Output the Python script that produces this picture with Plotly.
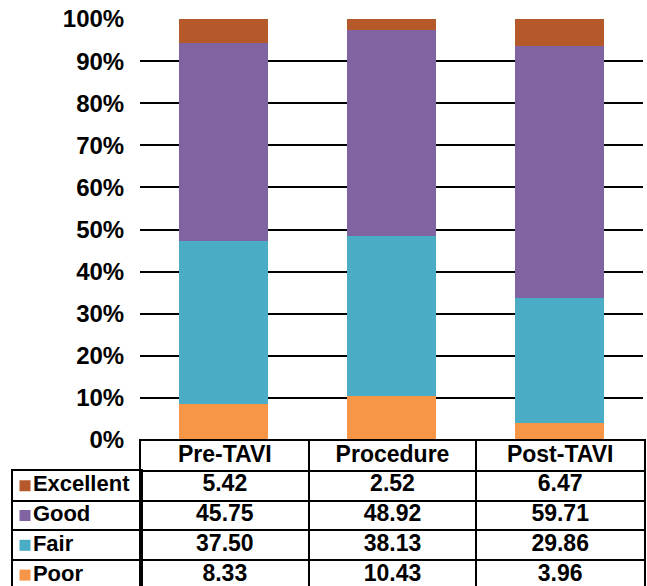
import plotly.graph_objects as go

categories = ["Pre-TAVI", "Procedure", "Post-TAVI"]
series_names = ["Excellent", "Good", "Fair", "Poor"]
excellent = [5.42, 2.52, 6.47]
good = [45.75, 48.92, 59.71]
fair = [37.50, 38.13, 29.86]
poor = [8.33, 10.43, 3.96]
y_ticks = list(range(0, 101, 10))
y_tick_labels = [f"{v}%" for v in y_ticks]

colors = {"Excellent": "#B5592A", "Good": "#8064A2", "Fair": "#4BACC6", "Poor": "#F79646"}
values = {"Excellent": excellent, "Good": good, "Fair": fair, "Poor": poor}

W, H = 647, 586
FONT = "Liberation Sans, Arial, sans-serif"
ROW = 29.8                 # table row height in px
TABLE_TOP = 441            # px from top
HEADER_KEY = "header"

fig = go.Figure()

# stacked 100% bars
for name in ["Poor", "Fair", "Good", "Excellent"]:
    fig.add_trace(go.Bar(x=categories, y=values[name], name=name,
                         marker=dict(color=colors[name], line=dict(width=0)),
                         width=0.53, showlegend=False, xaxis="x", yaxis="y"))

# data table: header + values
fig.add_trace(go.Scatter(x=categories, y=[HEADER_KEY] * len(categories), text=categories,
                         mode="text", textfont=dict(family=FONT, size=23, color="black", weight="bold"),
                         showlegend=False, xaxis="x2", yaxis="y2", hoverinfo="skip"))
for name in series_names:
    fig.add_trace(go.Scatter(x=categories, y=[name] * len(categories),
                             text=[f"{v:.2f}" for v in values[name]],
                             mode="text", textfont=dict(family=FONT, size=23, color="black", weight="bold"),
                             showlegend=False, xaxis="x2", yaxis="y2", hoverinfo="skip"))

# row labels with legend keys
fig.add_trace(go.Scatter(x=[0] * len(series_names), y=series_names, text=series_names,
                         mode="markers+text", textposition="middle right",
                         marker=dict(symbol="square", size=11, color=[colors[n] for n in series_names]),
                         textfont=dict(family=FONT, size=22, color="black", weight="bold"),
                         showlegend=False, xaxis="x3", yaxis="y3", hoverinfo="skip"))

tbl_h = (H - TABLE_TOP)
lbl_h = tbl_h - ROW

fig.update_layout(
    width=W, height=H, barmode="stack", barnorm="percent",
    margin=dict(l=0, r=0, t=0, b=0, pad=0, autoexpand=False),
    paper_bgcolor="white", plot_bgcolor="white",
    xaxis=dict(domain=[140 / W, 643 / W], showticklabels=False, showgrid=False,
               zeroline=False, showline=False, range=[-0.5, 2.5], automargin=False),
    yaxis=dict(domain=[(H - 440) / H, (H - 19) / H], range=[0, 100], automargin=False,
               tickvals=y_ticks, ticktext=y_tick_labels, showgrid=True,
               gridcolor="black", gridwidth=2, zeroline=False, showline=False,
               ticks="outside", ticklen=10, tickcolor="rgba(0,0,0,0)",
               tickfont=dict(family=FONT, size=24, color="black", weight="bold")),
    xaxis2=dict(domain=[141 / W, 644 / W], anchor="y2", type="category", automargin=False,
                categoryorder="array", categoryarray=categories, range=[-0.5, 2.5],
                showticklabels=False, showgrid=True, tickson="boundaries",
                gridcolor="black", gridwidth=2, zeroline=False, ticks="",
                showline=True, linecolor="black", linewidth=2, side="top", mirror=False),
    yaxis2=dict(domain=[0, tbl_h / H], anchor="x2", type="category", automargin=False,
                categoryorder="array", categoryarray=[HEADER_KEY] + series_names,
                range=[-0.5 + tbl_h / ROW, -0.5],
                showticklabels=False, showgrid=True, tickson="boundaries",
                gridcolor="black", gridwidth=2, zeroline=False, ticks="",
                showline=True, linecolor="black", linewidth=2, mirror=True),
    xaxis3=dict(domain=[13 / W, 141 / W], anchor="y3", range=[-12 / 128, 116 / 128], automargin=False,
                showticklabels=False, showgrid=False, zeroline=False, ticks="",
                showline=True, linecolor="black", linewidth=2, side="top", mirror=False),
    yaxis3=dict(domain=[0, lbl_h / H], anchor="x3", type="category", automargin=False,
                categoryorder="array", categoryarray=series_names,
                range=[-0.5 + lbl_h / ROW, -0.5],
                showticklabels=False, showgrid=True, tickson="boundaries",
                gridcolor="black", gridwidth=2, zeroline=False, ticks="",
                showline=True, linecolor="black", linewidth=2, mirror=True),
)

fig.write_html("out.html", config={"displayModeBar": False},
               post_script="document.body.style.margin='0';document.body.style.overflow='hidden';")
